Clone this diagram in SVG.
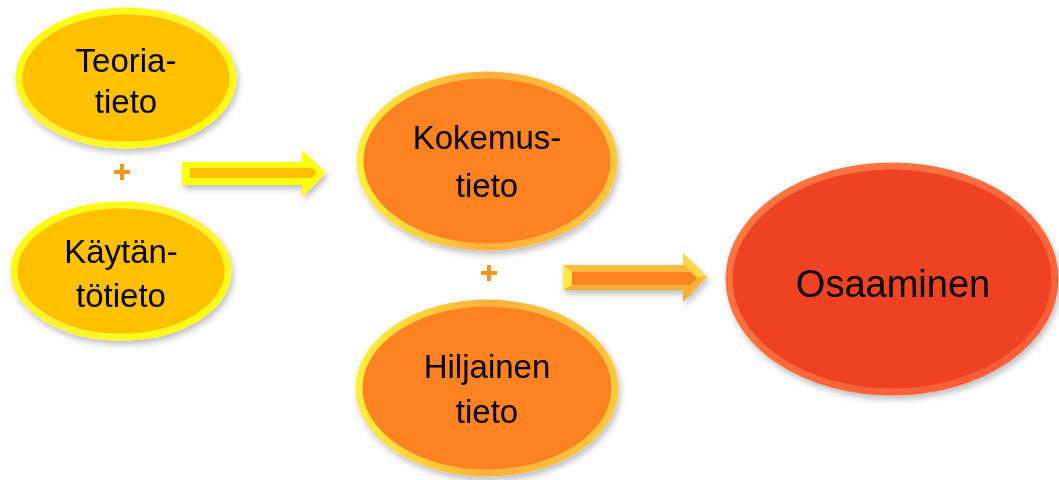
<svg xmlns="http://www.w3.org/2000/svg" width="1059" height="480" viewBox="0 0 1059 480">
  <defs>
    <filter id="sh" x="-20%" y="-20%" width="140%" height="150%">
      <feDropShadow dx="2" dy="4" stdDeviation="3" flood-color="#000" flood-opacity="0.25"/>
    </filter>
    <linearGradient id="gYel" x1="0" y1="0" x2="1" y2="1">
      <stop offset="0" stop-color="#FFFF00"/>
      <stop offset="0.5" stop-color="#FFF23A"/>
      <stop offset="1" stop-color="#FFFF00"/>
    </linearGradient>
    <linearGradient id="gOr" x1="0" y1="0" x2="1" y2="0">
      <stop offset="0" stop-color="#FFEE3A"/>
      <stop offset="0.5" stop-color="#FFB13A"/>
      <stop offset="1" stop-color="#FFC83A"/>
    </linearGradient>
    <linearGradient id="gRed" x1="0" y1="0" x2="1" y2="1">
      <stop offset="0" stop-color="#FF7A45"/>
      <stop offset="1" stop-color="#FF5A35"/>
    </linearGradient>
    <linearGradient id="gArr2" x1="0" y1="0" x2="0" y2="1">
      <stop offset="0" stop-color="#FFC640"/>
      <stop offset="1" stop-color="#FCA532"/>
    </linearGradient>
  </defs>
  <style>
    .t { font-family: "Liberation Sans", Arial, sans-serif; fill: #000; text-anchor: middle; }
    .s { font-size: 33px; }
    .b { font-size: 38px; }
    .y { fill: #FFC000; stroke: url(#gYel); stroke-width: 7; }
    .o { fill: #FC8220; stroke: url(#gOr); stroke-width: 7; }
    .r { fill: #EF4224; stroke: url(#gRed); stroke-width: 7; }
    .plus { stroke: #F7941D; stroke-width: 4; }
  </style>
  <rect width="1059" height="480" fill="#fff"/>

  <g id="teoriatieto" filter="url(#sh)">
    <ellipse class="y" cx="126" cy="78" rx="107" ry="67"/>
    <text class="t s" x="126" y="72">Teoria-</text>
    <text class="t s" x="126" y="113">tieto</text>
  </g>

  <g id="kaytantotieto" filter="url(#sh)">
    <ellipse class="y" cx="121" cy="271" rx="107" ry="66"/>
    <text class="t s" x="121" y="263">Käytän-</text>
    <text class="t s" x="121" y="307">tötieto</text>
  </g>

  <g id="kokemustieto" filter="url(#sh)">
    <ellipse class="o" cx="487" cy="161" rx="127" ry="86"/>
    <text class="t s" x="487" y="149">Kokemus-</text>
    <text class="t s" x="487" y="197">tieto</text>
  </g>

  <g id="hiljainentieto" filter="url(#sh)">
    <ellipse class="o" cx="487" cy="388" rx="128" ry="85"/>
    <text class="t s" x="487" y="378">Hiljainen</text>
    <text class="t s" x="487" y="423">tieto</text>
  </g>

  <g id="osaaminen" filter="url(#sh)">
    <ellipse class="r" cx="892" cy="279" rx="163" ry="113"/>
    <text class="t b" x="893" y="297">Osaaminen</text>
  </g>

  <g id="connectors">
    <g id="plus1">
      <line class="plus" x1="114" y1="172" x2="130" y2="172"/>
      <line class="plus" x1="122" y1="164" x2="122" y2="180"/>
    </g>
    <g id="plus2">
      <line class="plus" x1="481" y1="273" x2="497" y2="273"/>
      <line class="plus" x1="489" y1="265" x2="489" y2="281"/>
    </g>
    <g id="arrow1" filter="url(#sh)">
      <polygon points="182,162 302,162 302,150 326,173 302,197 302,185 182,185" fill="#FFFF10"/>
      <polygon points="190,168 312,168 317,173 312,178 190,178" fill="#FFC000"/>
    </g>
    <g id="arrow2" filter="url(#sh)">
      <polygon points="563,265 683,265 683,253 707,277 683,302 683,290 563,290" fill="url(#gArr2)"/>
      <polygon points="563,265 572,272 572,285 563,290" fill="#FFE84A"/>
      <polygon points="683,253 707,277 697,277 683,263" fill="#FFD84A"/>
      <polygon points="572,272 690,272 697,278 690,285 572,285" fill="#FC8220"/>
    </g>
  </g>
</svg>
